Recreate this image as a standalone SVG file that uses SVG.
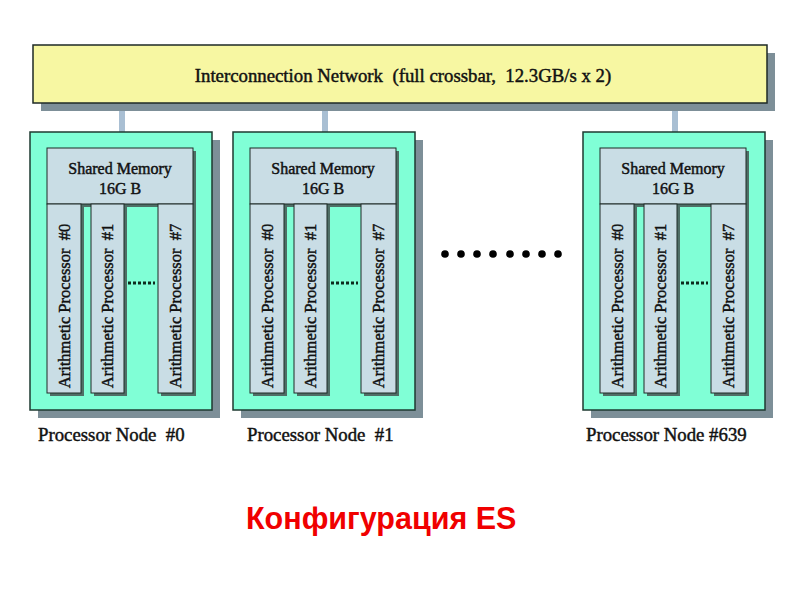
<svg xmlns="http://www.w3.org/2000/svg" width="800" height="600" viewBox="0 0 800 600">
<defs>
<style>
.shadow{fill:#7d8f98}
.net{fill:#f7f7a2;stroke:#1e2a26;stroke-width:1.5}
.node{fill:#80ffd6;stroke:#1e3a30;stroke-width:1.5}
.mem{fill:#c9dde5;stroke:#1e2a26;stroke-width:1}
.proc{fill:#c9dde5;stroke:#1e2a26;stroke-width:1}
.pshadow{fill:#4f6e66}
.link{fill:#a9bfd3}
.t{font-family:"Liberation Serif","Times New Roman",serif;fill:#111;stroke:#111;stroke-width:0.45}
.dots{stroke:#0d2a1c;stroke-width:3;stroke-dasharray:3 2}
</style>
<g id="nodeTpl">
<rect class="shadow" x="8" y="8" width="182" height="278"/>
<rect class="node" x="0" y="0" width="182" height="278"/>
<rect class="pshadow" x="20" y="19" width="146" height="56"/>
<rect class="pshadow" x="20" y="75" width="34" height="189"/>
<rect class="pshadow" x="64" y="75" width="33" height="189"/>
<rect class="pshadow" x="131" y="75" width="35" height="189"/>
<rect class="mem" x="17" y="16" width="146" height="56"/>
<text class="t" x="90" y="42" font-size="16" text-anchor="middle">Shared Memory</text>
<text class="t" x="90" y="62" font-size="16" text-anchor="middle">16G B</text>
<rect class="proc" x="17" y="72" width="34" height="189"/>
<rect class="proc" x="61" y="72" width="33" height="189"/>
<rect class="proc" x="128" y="72" width="35" height="189"/>
<text class="t" font-size="16.5" text-anchor="middle" transform="translate(40,174) rotate(-90)" xml:space="preserve">Arithmetic Processor  #0</text>
<text class="t" font-size="16.5" text-anchor="middle" transform="translate(83,174) rotate(-90)" xml:space="preserve">Arithmetic Processor  #1</text>
<text class="t" font-size="16.5" text-anchor="middle" transform="translate(151,174) rotate(-90)" xml:space="preserve">Arithmetic Processor  #7</text>
<line class="dots" x1="98" y1="151" x2="125" y2="151"/>
</g>
</defs>
<rect width="800" height="600" fill="#fff"/>
<g id="connectors">
<rect class="link" x="119" y="103" width="6" height="30"/>
<rect class="link" x="322" y="103" width="6" height="30"/>
<rect class="link" x="672" y="103" width="6" height="30"/>
</g>
<g id="network">
<rect class="shadow" x="41" y="53" width="734" height="58"/>
<rect class="net" x="33" y="45" width="734" height="58"/>
<text class="t" x="403" y="82" font-size="18.8" text-anchor="middle" xml:space="preserve">Interconnection Network  (full crossbar,  12.3GB/s x 2)</text>
</g>
<g id="node0" transform="translate(30,132)">
<use href="#nodeTpl"/>
</g>
<g id="node1" transform="translate(233,132)">
<use href="#nodeTpl"/>
</g>
<g id="node639" transform="translate(583,132)">
<use href="#nodeTpl"/>
</g>
<g id="ellipsis" fill="#000">
<circle cx="445" cy="254" r="3.8"/>
<circle cx="461" cy="254" r="3.8"/>
<circle cx="477" cy="254" r="3.8"/>
<circle cx="493" cy="254" r="3.8"/>
<circle cx="510" cy="254" r="3.8"/>
<circle cx="526" cy="254" r="3.8"/>
<circle cx="542" cy="254" r="3.8"/>
<circle cx="558" cy="254" r="3.8"/>
</g>
<g id="labels">
<text class="t" x="38" y="441" font-size="18.8" xml:space="preserve">Processor Node  #0</text>
<text class="t" x="247" y="441" font-size="18.8" xml:space="preserve">Processor Node  #1</text>
<text class="t" x="586" y="441" font-size="18.8">Processor Node #639</text>
<text x="246" y="529" font-size="30.5" font-weight="bold" fill="#f00000" font-family="'Liberation Sans',Arial,sans-serif">Конфигурация ES</text>
</g>
</svg>
